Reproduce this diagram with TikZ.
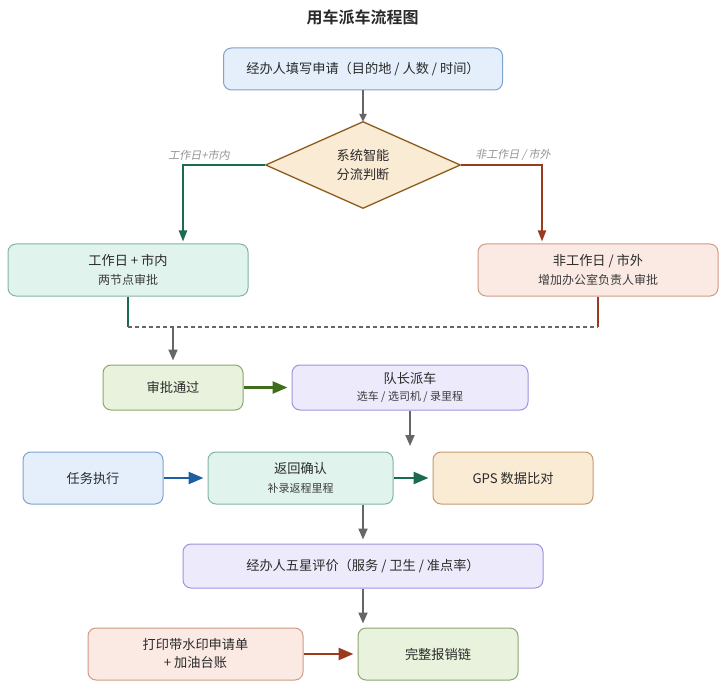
\documentclass[tikz,border=0pt]{standalone}
\usepackage{fontspec}
\setmainfont{Noto Sans CJK SC}[BoldFont={* Bold}]
\newfontfamily\cjkit{Noto Sans CJK SC}[FakeSlant=0.2]
\usetikzlibrary{shapes.geometric,arrows.meta}
\definecolor{txt}{HTML}{2A2A2A}
\definecolor{subtxt}{HTML}{3C3C3C}
\definecolor{gline}{HTML}{666666}
\definecolor{blueF}{HTML}{E4EFFB}\definecolor{blueD}{HTML}{7DA3CF}
\definecolor{tealF}{HTML}{E0F3EC}\definecolor{tealD}{HTML}{7FB5A2}
\definecolor{redF}{HTML}{FBEAE4}\definecolor{redD}{HTML}{D19A87}
\definecolor{olvF}{HTML}{E8F2DC}\definecolor{olvD}{HTML}{8BA870}
\definecolor{purF}{HTML}{EDEBFB}\definecolor{purD}{HTML}{9E94DE}
\definecolor{orgF}{HTML}{FAEBD5}\definecolor{orgD}{HTML}{C49A6A}
\definecolor{diaD}{HTML}{8B5A1A}
\definecolor{greenA}{HTML}{1A6B50}
\definecolor{brownA}{HTML}{9A3A1E}
\definecolor{oliveA}{HTML}{3E6E1A}
\definecolor{blueA}{HTML}{1E5FA0}
\tikzset{
  box/.style={draw, rounded corners=8pt, line width=1pt, align=center, inner sep=0pt, text=txt, font=\fontsize{13.2}{18}\selectfont},
  conn/.style={draw=gline, line width=2pt, -{Triangle[length=11pt,width=9pt]}, shorten >=4pt},
  carrow/.style={line width=2.5pt, -{Triangle[length=15pt,width=12pt]}, shorten >=4pt},
  varrow/.style={line width=2pt, -{Triangle[length=11pt,width=8pt]}, shorten >=2pt},
  lbl/.style={font=\cjkit\fontsize{11}{13}\selectfont, text=gray!85},
}
\newcommand{\subl}[1]{{\fontsize{12}{15}\selectfont\color{subtxt}#1}}
\newcommand{\subs}[1]{{\fontsize{11}{14}\selectfont\color{subtxt}#1}}
\begin{document}
\begin{tikzpicture}[x=1pt,y=-1pt]
\useasboundingbox (0,0) rectangle (723,687);
\node[font=\bfseries\fontsize{16}{19}\selectfont, text=txt] (title) at (362.5,17) {用车派车流程图};
\node[box, fill=blueF, draw=blueD, minimum width=279pt, minimum height=42pt] (app) at (363,69) {经办人填写申请（目的地 / 人数 / 时间）};
\node[diamond, draw=diaD, fill=orgF, line width=1.3pt, minimum width=195pt, minimum height=87pt, inner sep=0pt, align=center, text=txt, font=\fontsize{13.2}{19}\selectfont] (dia) at (363,165) {系统智能\\分流判断};
\node[box, fill=tealF, draw=tealD, minimum width=240pt, minimum height=52pt] (lb) at (128,270) {工作日 + 市内\\[1pt]\subl{两节点审批}};
\node[box, fill=redF, draw=redD, minimum width=240pt, minimum height=52pt] (rb) at (598,270) {非工作日 / 市外\\[1pt]\subl{增加办公室负责人审批}};
\node[box, fill=olvF, draw=olvD, minimum width=140pt, minimum height=45pt] (ok) at (173,387.5) {审批通过};
\node[box, fill=purF, draw=purD, minimum width=236pt, minimum height=45pt] (disp) at (410,387.5) {队长派车\\[-1pt]\subs{选车 / 选司机 / 录里程}};
\node[box, fill=blueF, draw=blueD, minimum width=140pt, minimum height=52pt] (exec) at (93,478) {任务执行};
\node[box, fill=tealF, draw=tealD, minimum width=185pt, minimum height=52pt] (ret) at (300.5,478) {返回确认\\[1pt]\subs{补录返程里程}};
\node[box, fill=orgF, draw=orgD, minimum width=160pt, minimum height=52pt] (gps) at (513,478) {GPS 数据比对};
\node[box, fill=purF, draw=purD, minimum width=360pt, minimum height=44pt] (eval) at (363,566) {经办人五星评价（服务 / 卫生 / 准点率）};
\node[box, fill=redF, draw=redD, minimum width=215pt, minimum height=52pt] (print) at (195.5,654) {打印带水印申请单\\+ 加油台账};
\node[box, fill=olvF, draw=olvD, minimum width=160pt, minimum height=52pt] (done) at (438,654) {完整报销链};
\coordinate (mL) at (128,327);
\coordinate (mR) at (598,327);
\coordinate (mJ) at (173,327);
\coordinate (dd) at (410,450);
\coordinate (lt) at ([xshift=55pt]lb.north);
\coordinate (rt) at ([xshift=-56pt]rb.north);
\node[lbl] (ll) at (199,155) {工作日+市内};
\node[lbl] (rl) at (513,155) {非工作日 / 市外};
\draw[draw=gline, line width=2pt, -{Triangle[length=8pt,width=7pt]}, shorten >=-1pt] (app.south) -- (dia.north);
\draw[varrow, draw=greenA] (dia.west) -| (lt);
\draw[varrow, draw=brownA] (dia.east) -| (rt);
\draw[greenA, line width=2pt] (lb.south) -- (mL);
\draw[brownA, line width=2pt] (rb.south) -- (mR);
\draw[gline, line width=1.8pt, dash pattern=on 4pt off 3pt] (mL) -- (mR);
\draw[conn] (mJ) -- (ok.north);
\draw[carrow, draw=oliveA] (ok.east) -- (disp.west);
\draw[conn] (disp.south) -- (dd);
\draw[carrow, draw=blueA] (exec.east) -- (ret.west);
\draw[carrow, draw=greenA] (ret.east) -- (gps.west);
\draw[conn] (eval.north |- ret.south) -- (eval.north);
\draw[conn] (eval.south) -- (eval.south |- done.north);
\draw[carrow, draw=brownA] (print.east) -- (done.west);
\end{tikzpicture}
\end{document}
